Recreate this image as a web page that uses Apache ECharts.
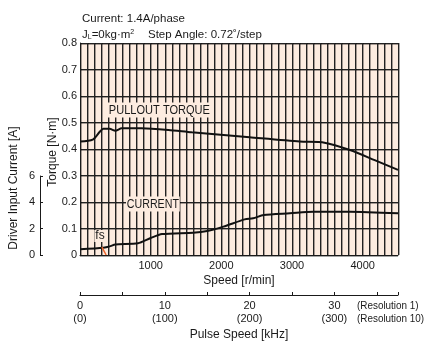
<!DOCTYPE html>
<html>
<head>
<meta charset="utf-8">
<script src="https://cdn.jsdelivr.net/npm/echarts@6/dist/echarts.min.js"></script>
<style>
  html, body { margin: 0; padding: 0; background: #fff; }
  #chart { width: 425px; height: 341px; }
</style>
</head>
<body>
<div id="chart"></div>
<script>
  // pullout torque curve [r/min] -> [N·m]
  var torqueSpeed = [0, 180, 280, 330, 420, 500, 590, 870, 1250, 1580, 2400, 3110, 3460, 3820, 4170, 4500];
  var torqueVals = [0.428, 0.435, 0.465, 0.476, 0.476, 0.469, 0.478, 0.478, 0.472, 0.463, 0.444, 0.428, 0.424, 0.396, 0.358, 0.321];
  // driver input current [r/min] -> [A]
  var currentSpeed = [0, 330, 420, 500, 820, 1000, 1160, 1600, 1800, 2030, 2330, 2450, 2600, 2970, 3300, 3820, 4500];
  var currentVals = [0.43, 0.55, 0.65, 0.80, 0.88, 1.28, 1.58, 1.68, 1.81, 2.14, 2.69, 2.77, 3.02, 3.15, 3.27, 3.27, 3.15];
  // fs marker (start speed)
  var fsSpeed = [310, 370];
  var fsVals = [0.03, 0];
  var speedLabels = [1000, 2000, 3000, 4000];
  var pulseLabels = [0, 10, 20, 30];

  var font = "'Liberation Sans Narrow', 'Liberation Sans', sans-serif";
  var ink = '#1a1a1a';
  var pair = function (xs, ys) { return xs.map(function (x, i) { return [x, ys[i]]; }); };

  var chart = echarts.init(document.getElementById('chart'));
  chart.setOption({
    animation: false,
    textStyle: { fontFamily: font, color: ink },
    grid: [
      { left: 80, top: 43, width: 318, height: 212, show: true, backgroundColor: '#fdece0', borderWidth: 0 },
      { left: 40, top: 176, width: 1, height: 79 },
      { left: 80, top: 294, width: 318, height: 1 }
    ],
    xAxis: [{
      gridIndex: 0, type: 'value', min: 0, max: 4500, interval: 100,
      axisLine: { lineStyle: { color: ink, width: 1 } },
      axisTick: { show: false },
      axisLabel: {
        color: ink, fontSize: 11, margin: 5,
        formatter: function (v) { return speedLabels.indexOf(v) >= 0 ? String(v) : ''; }
      },
      splitLine: { lineStyle: { color: '#222', width: 1, shadowColor: 'rgba(0,0,0,0.35)', shadowOffsetX: 1 } }
    }, {
      gridIndex: 1, type: 'value', show: false
    }, {
      gridIndex: 2, type: 'value', min: 0, max: 37.5, interval: 5,
      axisLine: { lineStyle: { color: ink, width: 1 } },
      axisTick: { inside: true, length: 3, lineStyle: { color: ink } },
      axisLabel: {
        color: ink, fontSize: 11, margin: 4, lineHeight: 13,
        formatter: function (v) { return pulseLabels.indexOf(v) >= 0 ? v + '\n(' + v * 10 + ')' : ''; }
      },
      splitLine: { show: false }
    }],
    yAxis: [{
      gridIndex: 0, type: 'value', min: 0, max: 0.8, interval: 0.1,
      axisLine: { show: true, lineStyle: { color: ink, width: 1 } },
      axisTick: { show: false },
      axisLabel: {
        color: ink, fontSize: 11, margin: 3,
        formatter: function (v) { return v === 0 ? '0' : v.toFixed(1); }
      },
      splitLine: { lineStyle: { color: '#222', width: 1, shadowColor: 'rgba(0,0,0,0.35)', shadowOffsetY: 1 } }
    }, {
      gridIndex: 0, type: 'value', min: 0, max: 16, show: false
    }, {
      gridIndex: 1, type: 'value', min: 0, max: 6, interval: 2,
      axisLine: { show: true, lineStyle: { color: ink, width: 1 } },
      axisTick: { show: true, inside: true, length: 3, lineStyle: { color: ink } },
      axisLabel: { color: ink, fontSize: 11, margin: 5 },
      splitLine: { show: false }
    }, {
      gridIndex: 2, type: 'value', show: false
    }],
    series: [{
      name: 'PULLOUT TORQUE', type: 'line', xAxisIndex: 0, yAxisIndex: 0,
      data: pair(torqueSpeed, torqueVals), smooth: 0.25, showSymbol: false,
      lineStyle: { color: '#111', width: 2 }, z: 5
    }, {
      name: 'CURRENT', type: 'line', xAxisIndex: 0, yAxisIndex: 1,
      data: pair(currentSpeed, currentVals), smooth: 0.25, showSymbol: false,
      lineStyle: { color: '#111', width: 2 }, z: 5
    }, {
      name: 'fs', type: 'line', xAxisIndex: 0, yAxisIndex: 0,
      data: pair(fsSpeed, fsVals), showSymbol: false,
      lineStyle: { color: '#f0642a', width: 1.5 }, z: 6
    }],
    graphic: [
      { type: 'text', x: 82, y: 13, z: 100, style: { text: 'Current: 1.4A/phase', fontSize: 11.5, fontFamily: font, fill: ink } },
      { type: 'text', x: 82, y: 29, z: 100, style: {
          text: 'J{s|L}=0kg·m{p|2}', fontSize: 11.5, fontFamily: font, fill: ink,
          rich: { s: { fontSize: 7, fontFamily: font, verticalAlign: 'bottom', padding: [4, 0, 0, 0] }, p: { fontSize: 7, fontFamily: font, verticalAlign: 'top', padding: [0, 0, 4, 0] } }
        } },
      { type: 'text', x: 148, y: 29, z: 100, style: { text: 'Step Angle: 0.72˚/step', fontSize: 11.5, fontFamily: font, fill: ink } },
      { type: 'text', x: 53, y: 152, rotation: Math.PI / 2, z: 100, style: { text: 'Torque [N·m]', fontSize: 12, fontFamily: font, fill: ink, align: 'center', verticalAlign: 'middle' } },
      { type: 'text', x: 14, y: 188, rotation: Math.PI / 2, z: 100, style: { text: 'Driver Input Current [A]', fontSize: 12, fontFamily: font, fill: ink, align: 'center', verticalAlign: 'middle' } },
      { type: 'text', x: 239, y: 281, z: 100, style: { text: 'Speed [r/min]', fontSize: 12, fontFamily: font, fill: ink, align: 'center', verticalAlign: 'middle' } },
      { type: 'text', x: 239, y: 335, z: 100, style: { text: 'Pulse Speed [kHz]', fontSize: 12, fontFamily: font, fill: ink, align: 'center', verticalAlign: 'middle' } },
      { type: 'text', x: 357, y: 299, z: 100, scaleX: 0.9, style: { text: '(Resolution 1)\n(Resolution 10)', fontSize: 11, lineHeight: 13, fontFamily: font, fill: ink } },
      { type: 'text', x: 108, y: 110, z: 100, scaleX: 0.85, style: { text: 'PULLOUT TORQUE', fontSize: 13, fontFamily: font, fill: ink, verticalAlign: 'middle', backgroundColor: '#fdece0', padding: [1, 1] } },
      { type: 'text', x: 126, y: 204, z: 100, scaleX: 0.82, style: { text: 'CURRENT', fontSize: 13, fontFamily: font, fill: ink, verticalAlign: 'middle', backgroundColor: '#fdece0', padding: [1, 1] } },
      { type: 'text', x: 100, y: 236, z: 100, style: { text: 'fs', fontSize: 12, fontFamily: font, fill: ink, align: 'center', verticalAlign: 'middle', backgroundColor: '#fdece0', padding: [0, 1] } }
    ]
  });
</script>
</body>
</html>
